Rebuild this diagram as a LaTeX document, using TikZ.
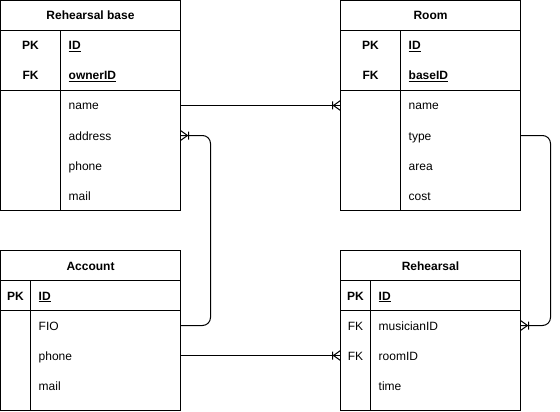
\documentclass[tikz,border=0pt]{standalone}
\usepackage{fontspec}
\setmainfont{Liberation Sans}

\tikzset{
  every node/.style={font=\fontsize{12}{14}\selectfont, inner sep=0pt},
  tbl/.style={draw, line width=1pt, outer sep=0pt, minimum width=180, anchor=north west},
  ttl/.style={font=\fontsize{12}{14}\selectfont\bfseries, anchor=base},
  key/.style={font=\fontsize{12}{14}\selectfont\bfseries, anchor=base},
  fk/.style={anchor=base},
  fld/.style={anchor=base west},
  rel/.style={line width=1pt, rounded corners=8pt},
  crowfoot/.pic={\draw[line width=1pt] (-8,-4) -- (-8,4) (-7,0) -- (0,-5) (-7,0) -- (0,5);}
}

\begin{document}
\begin{tikzpicture}[x=1pt,y=-1pt]
      \useasboundingbox (0,0) rectangle (560,412);
      %
      % Rehearsal base
      \node[tbl, minimum height=210] (base) at (0.5,0.5) {};
      \draw[line width=1pt] (0.5,30.5) -- (180.5,30.5);
      \draw[line width=1pt] (0.5,90.5) -- (180.5,90.5);
      \draw[line width=1pt] (60.5,30.5) -- (60.5,210.5);
      \node[ttl] (baseT) at (90.5,20) {Rehearsal base};
      \node[key] (basePK) at (30.5,50) {PK};
      \node[key] (baseFK) at (30.5,80) {FK};
      \node[fld, font=\fontsize{12}{14}\selectfont\bfseries] (baseId) at (68.5,50) {\underline{ID}};
      \node[fld, font=\fontsize{12}{14}\selectfont\bfseries] (baseOwner) at (68.5,80) {\underline{ownerID}};
      \node[fld] (baseName) at (68.5,110) {name};
      \node[fld] (baseAddr) at (68.5,140) {address};
      \node[fld] (basePhone) at (68.5,170) {phone};
      \node[fld] (baseMail) at (68.5,200) {mail};
      %
      % Room
      \node[tbl, minimum height=210] (room) at (340.5,0.5) {};
      \draw[line width=1pt] (340.5,30.5) -- (520.5,30.5);
      \draw[line width=1pt] (340.5,90.5) -- (520.5,90.5);
      \draw[line width=1pt] (400.5,30.5) -- (400.5,210.5);
      \node[ttl] (roomT) at (430.5,20) {Room};
      \node[key] (roomPK) at (370.5,50) {PK};
      \node[key] (roomFK) at (370.5,80) {FK};
      \node[fld, font=\fontsize{12}{14}\selectfont\bfseries] (roomId) at (408.5,50) {\underline{ID}};
      \node[fld, font=\fontsize{12}{14}\selectfont\bfseries] (roomBase) at (408.5,80) {\underline{baseID}};
      \node[fld] (roomName) at (408.5,110) {name};
      \node[fld] (roomType) at (408.5,140) {type};
      \node[fld] (roomArea) at (408.5,170) {area};
      \node[fld] (roomCost) at (408.5,200) {cost};
      %
      % Account
      \node[tbl, minimum height=160] (acc) at (0.5,250.5) {};
      \draw[line width=1pt] (0.5,280.5) -- (180.5,280.5);
      \draw[line width=1pt] (0.5,310.5) -- (180.5,310.5);
      \draw[line width=1pt] (30.5,280.5) -- (30.5,410.5);
      \node[ttl] (accT) at (90.5,270) {Account};
      \node[key] (accPK) at (15.5,300) {PK};
      \node[fld, font=\fontsize{12}{14}\selectfont\bfseries] (accId) at (38.5,300) {\underline{ID}};
      \node[fld] (accFio) at (38.5,330) {FIO};
      \node[fld] (accPhone) at (38.5,360) {phone};
      \node[fld] (accMail) at (38.5,390) {mail};
      %
      % Rehearsal
      \node[tbl, minimum height=160] (reh) at (340.5,250.5) {};
      \draw[line width=1pt] (340.5,280.5) -- (520.5,280.5);
      \draw[line width=1pt] (340.5,310.5) -- (520.5,310.5);
      \draw[line width=1pt] (370.5,280.5) -- (370.5,410.5);
      \node[ttl] (rehT) at (430.5,270) {Rehearsal};
      \node[key] (rehPK) at (355.5,300) {PK};
      \node[fk] (rehFK1) at (355.5,330) {FK};
      \node[fk] (rehFK2) at (355.5,360) {FK};
      \node[fld, font=\fontsize{12}{14}\selectfont\bfseries] (rehId) at (378.5,300) {\underline{ID}};
      \node[fld] (rehMusician) at (378.5,330) {musicianID};
      \node[fld] (rehRoom) at (378.5,360) {roomID};
      \node[fld] (rehTime) at (378.5,390) {time};
      %
      % relations
      \coordinate (baseNameR) at ([yshift=4.5pt]baseName.base -| base.east);
      \coordinate (roomNameL) at ([yshift=4.5pt]roomName.base -| room.west);
      \coordinate (baseAddrR) at ([yshift=4.5pt]baseAddr.base -| base.east);
      \coordinate (accFioR) at ([yshift=4.5pt]accFio.base -| acc.east);
      \coordinate (accPhoneR) at ([yshift=4.5pt]accPhone.base -| acc.east);
      \coordinate (rehRoomL) at ([yshift=4.5pt]rehRoom.base -| reh.west);
      \coordinate (roomTypeR) at ([yshift=4.5pt]roomType.base -| room.east);
      \coordinate (rehMusR) at ([yshift=4.5pt]rehMusician.base -| reh.east);
      %
      \draw[rel] (baseNameR) -- (roomNameL);
      \pic at (roomNameL) {crowfoot};
      \draw[rel] (accFioR) -- ++(30,0) |- (baseAddrR);
      \pic[rotate=180] at (baseAddrR) {crowfoot};
      \draw[rel] (accPhoneR) -- (rehRoomL);
      \pic at (rehRoomL) {crowfoot};
      \draw[rel] (roomTypeR) -- ++(30,0) |- (rehMusR);
      \pic[rotate=180] at (rehMusR) {crowfoot};
\end{tikzpicture}
\end{document}
